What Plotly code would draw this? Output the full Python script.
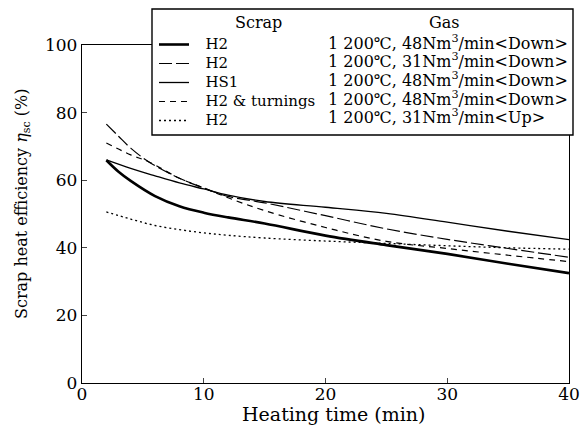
import plotly.graph_objects as go

# ---- data ----
t_h2_48_down = [2, 3, 4, 6, 8, 10, 12, 15, 20, 25, 30, 35, 40]
eff_h2_48_down = [65.9, 62.5, 59.8, 55.3, 52.3, 50.4, 49.0, 47.2, 43.6, 40.8, 38.2, 35.3, 32.5]

t_h2_31_down = [2, 3, 4, 5.5, 8, 10, 12, 15, 20, 25, 30, 35, 40]
eff_h2_31_down = [76.6, 73.0, 69.5, 65.4, 60.6, 57.7, 55.2, 53.3, 49.5, 45.6, 42.5, 39.8, 37.2]

t_hs1_48_down = [2, 4, 6, 8, 10, 12, 15, 20, 25, 30, 35, 40]
eff_hs1_48_down = [66.0, 63.5, 61.3, 59.2, 57.4, 55.6, 53.7, 52.0, 50.2, 47.6, 44.9, 42.4]

t_h2turn_48_down = [2, 4, 5.5, 8, 10, 12, 15, 20, 25, 30, 35, 40]
eff_h2turn_48_down = [71.0, 67.5, 65.4, 60.6, 57.7, 54.8, 51.0, 46.0, 41.9, 39.8, 37.8, 35.9]

t_h2_31_up = [2, 4, 6, 8, 10, 12, 15, 20, 25, 30, 35, 40]
eff_h2_31_up = [50.6, 48.5, 46.6, 45.4, 44.4, 43.7, 42.9, 42.0, 41.3, 40.6, 40.0, 39.6]

scrap_labels = ["H2", "H2", "HS1", "H2 &amp; turnings", "H2"]
gas_labels = [
    "1 200℃, 48Nm<sup>3</sup>/min&lt;Down&gt;",
    "1 200℃, 31Nm<sup>3</sup>/min&lt;Down&gt;",
    "1 200℃, 48Nm<sup>3</sup>/min&lt;Down&gt;",
    "1 200℃, 48Nm<sup>3</sup>/min&lt;Down&gt;",
    "1 200℃, 31Nm<sup>3</sup>/min&lt;Up&gt;",
]
x_ticks = [0, 10, 20, 30, 40]
y_ticks = [0, 20, 40, 60, 80, 100]

FONT = "DejaVu Serif"
series = [
    (t_h2_48_down, eff_h2_48_down, dict(width=2.6, dash="solid")),
    (t_h2_31_down, eff_h2_31_down, dict(width=1.2, dash="13px,4px")),
    (t_hs1_48_down, eff_hs1_48_down, dict(width=1.3, dash="solid")),
    (t_h2turn_48_down, eff_h2turn_48_down, dict(width=1.2, dash="6px,5px")),
    (t_h2_31_up, eff_h2_31_up, dict(width=1.3, dash="2px,3px")),
]

fig = go.Figure()
for (t, e, ln), name in zip(series, scrap_labels):
    fig.add_trace(go.Scatter(
        x=t, y=e, mode="lines",
        line=dict(color="black", shape="spline", smoothing=1.0, **ln),
        name='\u00a0\u00a0\u00a0<span style="font-size:15px">' + name + '</span>',
    ))

# plot geometry (pixels) for paper-coordinate decorations
L, R, T, B = 82, 12, 45, 56
W, H = 581, 439
pw, ph = W - L - R, H - T - B


def px(x):
    return (x - L) / pw


def py(y):
    return (H - B - y) / ph


annotations = [
    dict(text="Scrap", x=px(258), y=py(23), xanchor="center", yanchor="middle"),
    dict(text="Gas", x=px(444), y=py(23), xanchor="center", yanchor="middle"),
]
rows = [42, 60.8, 79.5, 98.2, 117]
for g, r in zip(gas_labels, rows):
    annotations.append(dict(text=g, x=px(326), y=py(r), xanchor="left", yanchor="middle",
                            font=dict(size=16)))
annotations.append(dict(text="Heating time (min)", x=px(333), y=py(414),
                        xanchor="center", yanchor="middle", font=dict(size=19)))
annotations.append(dict(text="Scrap heat efficiency <i>η</i><sub>sc</sub> (%)",
                        x=px(22), y=py(204), textangle=-90,
                        xanchor="center", yanchor="middle", font=dict(size=16)))
for a in annotations:
    a.update(xref="paper", yref="paper", showarrow=False)
    a.setdefault("font", dict(size=16))
    a["font"]["family"] = FONT
    a["font"]["color"] = "black"

fig.update_layout(
    width=W, height=H,
    margin=dict(l=L, r=R, t=T, b=B, autoexpand=False),
    paper_bgcolor="white", plot_bgcolor="white",
    font=dict(family=FONT, color="black", size=17),
    showlegend=True,
    legend=dict(
        x=px(154), y=py(30), xanchor="left", yanchor="top",
        bgcolor="rgba(0,0,0,0)", borderwidth=0,
        font=dict(family=FONT, size=12, color="black"),
        tracegroupgap=0,
    ),
    annotations=annotations,
    shapes=[dict(type="rect", xref="paper", yref="paper",
                 x0=px(152), x1=px(573), y0=py(135), y1=py(9),
                 fillcolor="white", line=dict(color="black", width=1.4),
                 layer="above")],
)
fig.update_xaxes(range=[0, 40], tickvals=x_ticks, ticks="inside", ticklen=5,
                 showline=True, linecolor="black", linewidth=1.3, mirror=True,
                 showgrid=False, zeroline=False, tickfont=dict(size=17),
                 ticklabelstandoff=-5, automargin=False)
fig.update_yaxes(range=[0, 100], tickvals=y_ticks, ticks="inside", ticklen=5,
                 showline=True, linecolor="black", linewidth=1.3, mirror=True,
                 showgrid=False, zeroline=False, tickfont=dict(size=17),
                 automargin=False)

fig.write_html("out.html", config={"displayModeBar": False},
               post_script="document.body.style.margin='0';document.body.style.overflow='hidden';")
